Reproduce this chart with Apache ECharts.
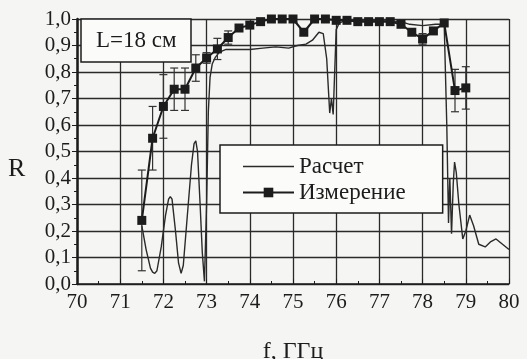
<!DOCTYPE html>
<html>
<head>
<meta charset="utf-8">
<script src="https://cdn.jsdelivr.net/npm/echarts@6/dist/echarts.min.js"></script>
<style>
  html, body { margin: 0; padding: 0; background: #f5f5f3; }
  #chart { width: 527px; height: 359px; }
</style>
</head>
<body>
<div id="chart"></div>
<script>
// Расчет (calculated curve)
const calcF = [71.5, 71.6, 71.7, 71.75, 71.8, 71.85, 71.95, 72.05, 72.12, 72.16, 72.2, 72.28, 72.35, 72.41, 72.46,
  72.55, 72.65, 72.71, 72.75, 72.79, 72.85, 72.9, 72.95, 73.0, 73.04, 73.08, 73.13, 73.2, 73.3, 73.45,
  74.0, 74.3, 74.6, 74.9, 75.1, 75.3, 75.45, 75.6, 75.7, 75.78, 75.85, 75.89, 75.93, 76.0, 76.07, 76.15,
  76.5, 77.0, 77.5, 77.7, 78.0, 78.3, 78.5, 78.56, 78.6, 78.63, 78.67, 78.71, 78.74, 78.78, 78.84, 78.93,
  79.0, 79.09, 79.18, 79.3, 79.45, 79.58, 79.7, 79.85, 80.0];
const calcR = [0.22, 0.13, 0.06, 0.045, 0.04, 0.05, 0.14, 0.26, 0.32, 0.33, 0.32, 0.2, 0.08, 0.04, 0.07,
  0.25, 0.45, 0.53, 0.54, 0.5, 0.3, 0.12, 0.01, 0.3, 0.65, 0.78, 0.83, 0.855, 0.875, 0.885,
  0.885, 0.89, 0.895, 0.89, 0.9, 0.905, 0.92, 0.95, 0.945, 0.85, 0.645, 0.7, 0.64, 0.96, 0.985, 0.99,
  0.995, 0.995, 0.99, 0.98, 0.975, 0.98, 0.98, 0.6, 0.23, 0.4, 0.19, 0.38, 0.46, 0.42, 0.3, 0.17,
  0.2, 0.26, 0.22, 0.15, 0.14, 0.16, 0.17, 0.15, 0.13];

// Измерение (measured points with error bars)
const measF = [71.5, 71.75, 72.0, 72.25, 72.5, 72.75, 73.0, 73.25, 73.5, 73.75, 74.0, 74.25, 74.5, 74.75, 75.0, 75.25,
  75.5, 75.75, 76.0, 76.25, 76.5, 76.75, 77.0, 77.25, 77.5, 77.75, 78.0, 78.25, 78.5, 78.75, 79.0];
const measR = [0.24, 0.55, 0.67, 0.735, 0.735, 0.815, 0.853, 0.887, 0.93, 0.966, 0.977, 0.99, 1.0, 1.0, 1.0, 0.95,
  1.0, 1.0, 0.995, 0.995, 0.99, 0.99, 0.99, 0.99, 0.98, 0.95, 0.925, 0.955, 0.985, 0.73, 0.74];
const measErr = [0.19, 0.12, 0.12, 0.08, 0.08, 0.05, 0.02, 0.04, 0.025, 0, 0, 0, 0, 0, 0, 0,
  0, 0, 0, 0, 0, 0, 0, 0, 0, 0, 0.02, 0, 0, 0.08, 0.08];

const xTicks = [70, 71, 72, 73, 74, 75, 76, 77, 78, 79, 80];

const serif = '"Liberation Serif", "DejaVu Serif", serif';
const ink = '#1c1c1c';

const calcData = calcF.map((f, i) => [f, calcR[i]]);
const measData = measF.map((f, i) => [f, measR[i]]);
const errData = measF.map((f, i) => [f, measR[i], measErr[i]]).filter(d => d[2] > 0);

const chart = echarts.init(document.getElementById('chart'));

chart.setOption({
  backgroundColor: '#f5f5f3',
  animation: false,
  title: {
    text: 'L=18 см',
    left: 81,
    top: 19,
    padding: [10, 15, 10, 15],
    borderColor: ink,
    borderWidth: 1.5,
    backgroundColor: '#fbfbfa',
    textStyle: { fontFamily: serif, fontSize: 23, fontWeight: 'normal', color: ink }
  },
  legend: {
    orient: 'vertical',
    left: 220,
    top: 145,
    padding: [10, 37, 9, 22],
    itemWidth: 51,
    itemHeight: 12,
    itemGap: 3,
    borderColor: ink,
    borderWidth: 1.5,
    backgroundColor: '#fbfbfa',
    // plain thin bar so the calculated curve shows only a line
    data: [{ name: 'Расчет', icon: 'path://M0,0H51V1.4H0Z' }, { name: 'Измерение' }],
    textStyle: { fontFamily: serif, fontSize: 23, color: ink }
  },
  grid: { left: 77, right: 18, top: 19, bottom: 75, outerBoundsMode: 'none' },
  xAxis: {
    type: 'value',
    min: 70,
    max: 80,
    interval: 1,
    name: 'f, ГГц',
    nameLocation: 'middle',
    nameGap: 56,
    nameTextStyle: { fontFamily: serif, fontSize: 24, color: ink },
    axisLine: { lineStyle: { color: ink, width: 1.5 } },
    axisTick: { inside: true, length: 5, lineStyle: { color: ink } },
    minorTick: { show: true, splitNumber: 2, length: 3, lineStyle: { color: ink } },
    axisLabel: {
      margin: 8,
      fontFamily: serif,
      fontSize: 21,
      color: ink,
      formatter: v => xTicks.includes(v) ? String(v) : ''
    },
    splitLine: { show: true, lineStyle: { color: '#2a2a2a', width: 1.3 } }
  },
  yAxis: {
    type: 'value',
    min: 0,
    max: 1,
    interval: 0.1,
    axisLine: { show: true, lineStyle: { color: ink, width: 2.5 } },
    axisTick: { show: true, length: 5, lineStyle: { color: ink } },
    minorTick: { show: true, splitNumber: 2, length: 3, lineStyle: { color: ink } },
    axisLabel: {
      margin: 6,
      fontFamily: serif,
      fontSize: 21,
      color: ink,
      formatter: v => v.toFixed(1).replace('.', ',')
    },
    splitLine: { show: true, lineStyle: { color: '#2a2a2a', width: 1.3 } }
  },
  graphic: [
    {
      type: 'text',
      left: 8,
      top: 156,
      style: { text: 'R', font: '26px ' + serif, fill: ink }
    }
  ],
  series: [
    {
      name: 'Расчет',
      type: 'line',
      data: calcData,
      symbol: 'none',
      lineStyle: { color: '#2a2a2a', width: 1.4 },
      itemStyle: { color: '#2a2a2a' },
      z: 3
    },
    {
      name: 'errors',
      type: 'custom',
      data: errData,
      encode: { x: 0, y: 1 },
      renderItem: function (params, api) {
        const f = api.value(0);
        const r = api.value(1);
        const e = api.value(2);
        const top = api.coord([f, r + e]);
        const bot = api.coord([f, r - e]);
        const st = { stroke: '#333', lineWidth: 1.2 };
        return {
          type: 'group',
          children: [
            { type: 'line', shape: { x1: top[0], y1: top[1], x2: bot[0], y2: bot[1] }, style: st },
            { type: 'line', shape: { x1: top[0] - 4, y1: top[1], x2: top[0] + 4, y2: top[1] }, style: st },
            { type: 'line', shape: { x1: bot[0] - 4, y1: bot[1], x2: bot[0] + 4, y2: bot[1] }, style: st }
          ]
        };
      },
      z: 4
    },
    {
      name: 'Измерение',
      type: 'line',
      data: measData,
      symbol: 'rect',
      symbolSize: 9,
      lineStyle: { color: ink, width: 2 },
      itemStyle: { color: ink },
      z: 5
    }
  ]
});
</script>
</body>
</html>
